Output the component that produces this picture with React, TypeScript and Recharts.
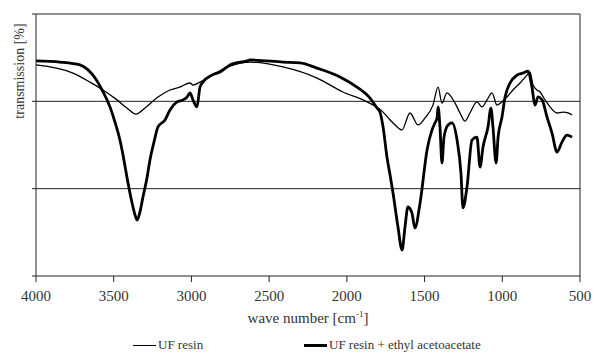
import React from 'react';
import { LineChart, Line, XAxis, YAxis, CartesianGrid, ReferenceLine, Legend } from 'recharts';

// wave numbers [cm-1] and transmission readings, UF resin
const resinWave = [4000, 3762, 3653, 3569, 3479, 3415, 3357, 3299, 3215, 3138, 3074, 3009, 2990, 2945, 2868, 2752, 2623, 2411, 2192, 2025, 1870, 1767, 1722, 1690, 1645, 1594, 1542, 1497, 1446, 1413, 1388, 1356, 1304, 1272, 1240, 1208, 1163, 1131, 1098, 1066, 1034, 1002, 970, 931, 886, 841, 822, 802, 777, 757, 725, 693, 648, 609, 577, 551];
const resinT = [72.5, 69.7, 66.6, 63.9, 60.5, 57.7, 55.6, 57.7, 61.5, 63.9, 64.9, 66.3, 65.6, 66.6, 69.0, 72.1, 73.5, 71.8, 68.0, 63.2, 59.8, 56.3, 53.6, 51.9, 50.2, 56.0, 51.9, 54.3, 58.7, 64.9, 59.4, 62.9, 59.4, 56.0, 53.2, 56.0, 59.8, 58.1, 60.5, 62.9, 58.7, 59.8, 61.5, 63.9, 66.3, 69.0, 70.1, 65.6, 63.9, 63.2, 60.5, 58.1, 56.0, 56.3, 56.0, 55.3];

// UF resin + ethyl acetoacetate
const blendWave = [4000, 3846, 3717, 3665, 3620, 3575, 3524, 3492, 3460, 3434, 3415, 3382, 3363, 3350, 3331, 3312, 3286, 3267, 3241, 3215, 3170, 3138, 3093, 3054, 3028, 3009, 2990, 2964, 2945, 2926, 2868, 2816, 2752, 2642, 2623, 2411, 2301, 2192, 2044, 1935, 1851, 1806, 1787, 1767, 1742, 1722, 1703, 1671, 1645, 1626, 1607, 1581, 1562, 1529, 1484, 1452, 1433, 1420, 1413, 1401, 1388, 1375, 1349, 1323, 1291, 1266, 1253, 1227, 1195, 1163, 1143, 1124, 1092, 1073, 1060, 1040, 1027, 1002, 982, 950, 905, 867, 835, 809, 790, 770, 744, 712, 680, 648, 616, 584, 551];
const blendT = [73.9, 73.5, 72.5, 70.8, 68.0, 63.9, 58.1, 52.9, 46.7, 39.8, 34.0, 25.1, 21.0, 19.2, 22.0, 27.1, 33.7, 39.8, 46.0, 51.2, 53.6, 57.0, 59.8, 60.5, 61.5, 62.9, 60.5, 58.1, 64.9, 66.6, 69.0, 70.1, 72.5, 73.9, 74.2, 73.5, 73.2, 71.4, 68.4, 64.9, 61.1, 57.7, 56.3, 51.2, 40.9, 34.7, 28.5, 16.8, 8.9, 16.8, 23.7, 21.6, 16.5, 25.1, 43.3, 50.2, 52.6, 54.3, 58.1, 51.2, 38.8, 47.7, 51.9, 52.6, 46.7, 35.4, 23.4, 30.6, 46.7, 47.7, 37.4, 44.3, 51.2, 57.7, 51.2, 38.8, 47.7, 54.6, 61.5, 66.3, 69.0, 69.7, 70.4, 64.9, 58.7, 61.5, 60.5, 54.6, 49.1, 42.6, 46.0, 48.4, 47.7];

const xTicks = [4000, 3500, 3000, 2500, 2000, 1500, 1000, 500];
const yTicks = [0, 30, 60, 90];

const FONT = '"Liberation Serif", "Times New Roman", serif';
const TEXT = '#333';

const resinData = resinWave.map((wn, i) => ({ wn, t: resinT[i] }));
const blendData = blendWave.map((wn, i) => ({ wn, t: blendT[i] }));

const XTick = ({ x, y, payload }: any) => (
  <text x={x} y={y + 11} textAnchor="middle" fontFamily={FONT} fontSize={15} fill={TEXT}>
    {payload.value}
  </text>
);

const XTitle = ({ viewBox }: any) => {
  const cx = viewBox.x + viewBox.width / 2;
  return (
    <text x={cx} y={viewBox.y + 47} textAnchor="middle" fontFamily={FONT} fontSize={15} fill={TEXT}>
      wave number [cm
      <tspan dy={-6} fontSize={9}>-1</tspan>
      <tspan dy={6}>]</tspan>
    </text>
  );
};

const YTitle = ({ viewBox }: any) => {
  const x = viewBox.x + 24;
  const y = viewBox.y + 57;
  return (
    <text x={x} y={y} transform={`rotate(-90 ${x} ${y})`} textAnchor="middle" fontFamily={FONT} fontSize={14} fill={TEXT}>
      transmission [%]
    </text>
  );
};

const LegendBox = () => (
  <div style={{ position: 'relative', width: 600, height: 24, fontFamily: FONT, fontSize: 13, color: TEXT }}>
    <div style={{ position: 'absolute', left: 133, top: 5, display: 'flex', alignItems: 'center' }}>
      <span style={{ width: 23, height: 0, borderTop: '1.5px solid #000', marginRight: 2 }} />
      <span>UF resin</span>
    </div>
    <div style={{ position: 'absolute', left: 304, top: 5, display: 'flex', alignItems: 'center' }}>
      <span style={{ width: 23, height: 0, borderTop: '3px solid #000', marginRight: 2 }} />
      <span>UF resin + ethyl acetoacetate</span>
    </div>
  </div>
);

export default function App() {
  return (
    <div style={{ position: 'absolute', left: 0, top: 0, width: 600, height: 361, background: '#fff', fontFamily: FONT }}>
      <LineChart width={600} height={361} margin={{ top: 14, right: 20, left: 0, bottom: 16 }}>
        <CartesianGrid vertical={false} horizontalValues={[30, 60, 90]} stroke="#222" strokeWidth={1} />
        <XAxis
          type="number"
          dataKey="wn"
          domain={[500, 4000]}
          reversed
          ticks={xTicks}
          interval={0}
          height={45}
          stroke="#222"
          tickSize={6}
          tickMargin={8}
          tick={<XTick />}
          label={<XTitle />}
        />
        <YAxis
          type="number"
          domain={[0, 90]}
          ticks={yTicks}
          width={36}
          stroke="#222"
          tickSize={4}
          tickFormatter={() => ''}
          label={<YTitle />}
        />
        <ReferenceLine x={500} stroke="#222" />
        <Line data={resinData} dataKey="t" type="monotone" stroke="#000" strokeWidth={1.3} dot={false} isAnimationActive={false} />
        <Line data={blendData} dataKey="t" type="monotone" stroke="#000" strokeWidth={2.8} dot={false} isAnimationActive={false} />
        <Legend content={<LegendBox />} wrapperStyle={{ top: 332, left: 0, bottom: 'auto', width: 600 }} />
      </LineChart>
    </div>
  );
}
